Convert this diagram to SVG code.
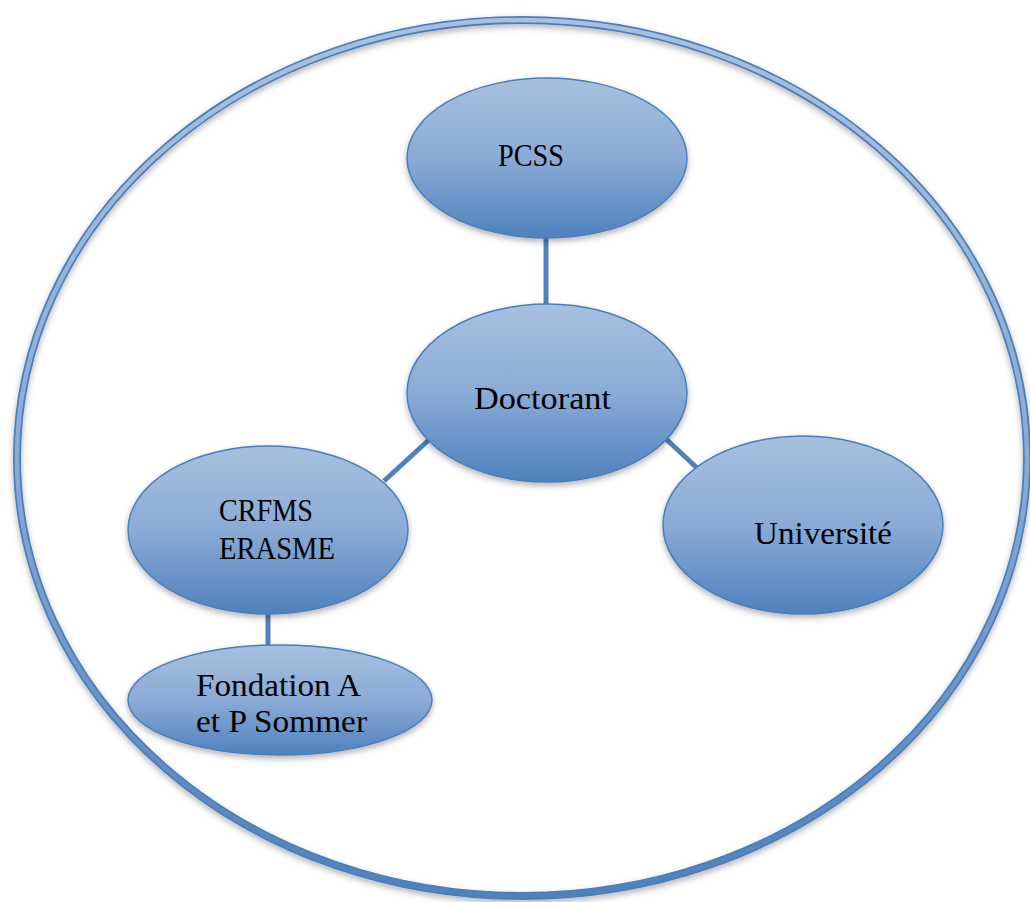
<svg xmlns="http://www.w3.org/2000/svg" width="1030" height="902" viewBox="0 0 1030 902">
  <defs>
    <linearGradient id="nodeFill" x1="0" y1="0" x2="0" y2="1">
      <stop offset="0" stop-color="#a7c0df"/>
      <stop offset="0.5" stop-color="#8aabd6"/>
      <stop offset="1" stop-color="#4f81bd"/>
    </linearGradient>
    <linearGradient id="ringFill" gradientUnits="userSpaceOnUse" x1="0" y1="20" x2="0" y2="896">
      <stop offset="0" stop-color="#a7c0df"/>
      <stop offset="0.5" stop-color="#8aabd6"/>
      <stop offset="1" stop-color="#4f81bd"/>
    </linearGradient>
    <filter id="shadow" x="-10%" y="-10%" width="120%" height="130%">
      <feDropShadow dx="0" dy="3" stdDeviation="3" flood-color="#000" flood-opacity="0.3"/>
    </filter>
  </defs>
  <style>
    .node { fill: url(#nodeFill); stroke: #4a7ebb; stroke-width: 1.5; filter: url(#shadow); }
    .label { font-family: "Liberation Serif", "DejaVu Serif", serif; font-size: 31px; fill: #000; }
    .conn { stroke: #4f81bd; stroke-width: 5; fill: none; }
  </style>
  <rect width="1030" height="902" fill="#fff"/>
  <g id="outer">
    <ellipse cx="522" cy="458" rx="505" ry="438" fill="none" stroke="#4a7ebb" stroke-width="8" filter="url(#shadow)"/>
    <ellipse cx="522" cy="458" rx="505" ry="438" fill="none" stroke="url(#ringFill)" stroke-width="4.5"/>
  </g>
  <g id="connectors">
    <line class="conn" x1="546" y1="236" x2="546" y2="305"/>
    <line class="conn" x1="432" y1="437" x2="384" y2="481"/>
    <line class="conn" x1="664" y1="437" x2="697" y2="468"/>
    <line class="conn" x1="268" y1="611" x2="268" y2="648"/>
  </g>
  <g id="pcss">
    <ellipse class="node" cx="547" cy="158" rx="140" ry="80"/>
    <text class="label" x="498" y="166" textLength="66" lengthAdjust="spacingAndGlyphs">PCSS</text>
  </g>
  <g id="doctorant">
    <ellipse class="node" cx="547" cy="393" rx="140" ry="89"/>
    <text class="label" x="474" y="409" textLength="137" lengthAdjust="spacingAndGlyphs">Doctorant</text>
  </g>
  <g id="crfms">
    <ellipse class="node" cx="268" cy="530" rx="140" ry="84"/>
    <text class="label" x="219" y="521" textLength="94" lengthAdjust="spacingAndGlyphs">CRFMS</text>
    <text class="label" x="219" y="559" textLength="116" lengthAdjust="spacingAndGlyphs">ERASME</text>
  </g>
  <g id="universite">
    <ellipse class="node" cx="803" cy="525" rx="140" ry="89"/>
    <text class="label" x="754" y="544" textLength="138" lengthAdjust="spacingAndGlyphs">Université</text>
  </g>
  <g id="fondation">
    <ellipse class="node" cx="280" cy="700" rx="152" ry="55"/>
    <text class="label" x="196" y="696" textLength="165" lengthAdjust="spacingAndGlyphs">Fondation A</text>
    <text class="label" x="196" y="732" textLength="171" lengthAdjust="spacingAndGlyphs">et P Sommer</text>
  </g>
</svg>
